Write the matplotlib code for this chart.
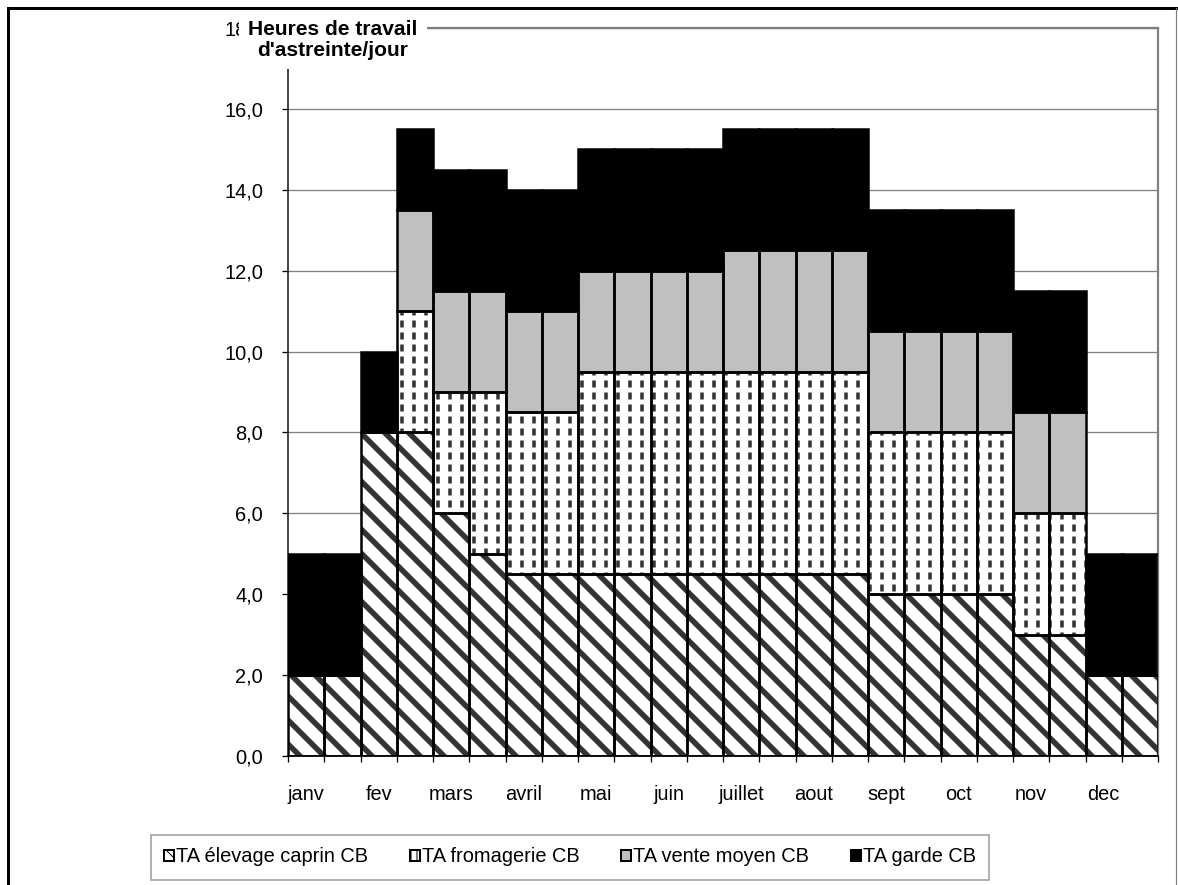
import numpy as np
import matplotlib.pyplot as plt
from matplotlib.patches import Patch
from matplotlib.lines import Line2D
from matplotlib.ticker import FuncFormatter, MultipleLocator

FONT = ['Liberation Sans', 'DejaVu Sans']
DPI = 72

months = ['janv', 'fev', 'mars', 'avril', 'mai', 'juin',
          'juillet', 'aout', 'sept', 'oct', 'nov', 'dec']
# two bars per month, label on the first one
tick_labels = [lab for m in months for lab in (m, '')]

caprin = [2, 2, 8, 8, 6, 5, 4.5, 4.5, 4.5, 4.5, 4.5, 4.5,
          4.5, 4.5, 4.5, 4.5, 4, 4, 4, 4, 3, 3, 2, 2]
fromagerie = [0, 0, 0, 3, 3, 4, 4, 4, 5, 5, 5, 5,
              5, 5, 5, 5, 4, 4, 4, 4, 3, 3, 0, 0]
vente = [0, 0, 0, 2.5, 2.5, 2.5, 2.5, 2.5, 2.5, 2.5, 2.5, 2.5,
         3, 3, 3, 3, 2.5, 2.5, 2.5, 2.5, 2.5, 2.5, 0, 0]
garde = [3, 3, 2, 2, 3, 3, 3, 3, 3, 3, 3, 3,
         3, 3, 3, 3, 3, 3, 3, 3, 3, 3, 3, 3]

series_names = ['TA élevage caprin CB', 'TA fromagerie CB',
                'TA vente moyen CB', 'TA garde CB']

plt.rcParams['font.family'] = FONT
plt.rcParams['font.size'] = 20


def hatch_lw(patches, lw):
    for p in patches:
        if hasattr(p, 'set_hatch_linewidth'):
            p.set_hatch_linewidth(lw)


def main():
    fig = plt.figure(figsize=(1178 / DPI, 885 / DPI), dpi=DPI)
    ax = fig.add_axes([288 / 1178, 1 - 756 / 885, 870 / 1178, 728 / 885])

    x = np.arange(len(caprin))
    c = np.array(caprin, float)
    f = np.array(fromagerie, float)
    v = np.array(vente, float)
    g = np.array(garde, float)
    b_f = c
    b_v = c + f
    b_g = c + f + v

    # fills
    with plt.rc_context({'hatch.linewidth': 5.5}):
        bars = ax.bar(x, c, width=1.0, facecolor='white', edgecolor='#333333',
                      linewidth=0, hatch='\\', zorder=2)
        hatch_lw(bars, 5.5)
    with plt.rc_context({'hatch.linewidth': 3.5}):
        bars = ax.bar(x, f, bottom=b_f, width=1.0, facecolor='white', edgecolor='#333333',
                      linewidth=0, hatch='|', zorder=2)
        hatch_lw(bars, 3.5)
    with plt.rc_context({'hatch.linewidth': 5.0}):
        # break the vertical lines into dashes
        bars = ax.bar(x, f, bottom=b_f, width=1.0, facecolor='none', edgecolor='white',
                      linewidth=0, hatch='-', zorder=3)
        hatch_lw(bars, 5.0)
    ax.bar(x, v, bottom=b_v, width=1.0, facecolor='#c0c0c0', linewidth=0, zorder=2)
    ax.bar(x, g, bottom=b_g, width=1.0, facecolor='black', linewidth=0, zorder=2)

    # outlines
    for vals, bot in ((c, 0), (f, b_f), (v, b_v), (g, b_g)):
        ax.bar(x, vals, bottom=bot, width=1.0, facecolor='none',
               edgecolor='black', linewidth=2.5, zorder=4)

    ax.set_xlim(-0.5, len(x) - 0.5)
    ax.set_ylim(0, 18)
    ax.yaxis.set_major_locator(MultipleLocator(2))
    ax.yaxis.set_major_formatter(FuncFormatter(lambda val, pos: f'{val:.1f}'.replace('.', ',')))
    ax.grid(axis='y', color='#808080', linewidth=1.3, zorder=1)
    ax.set_axisbelow(True)

    ax.set_xticks(x)
    ax.set_xticklabels(tick_labels)
    ax.set_xticks(np.arange(len(x) + 1) - 0.5, minor=True)
    ax.tick_params(axis='x', which='major', length=0, pad=29, labelsize=20)
    ax.tick_params(axis='x', which='minor', length=6, width=1.3, direction='out', color='black')
    ax.tick_params(axis='y', length=6, width=1.3, direction='out', pad=19, labelsize=20)

    ax.spines['left'].set_color('#333333')
    ax.spines['left'].set_linewidth(1.8)
    ax.spines['bottom'].set_color('black')
    ax.spines['bottom'].set_linewidth(1.8)
    for side in ('top', 'right'):
        ax.spines[side].set_color('#808080')
        ax.spines[side].set_linewidth(2.2)

    fig.text(333 / 1178, 1 - 40 / 885, "Heures de travail\nd'astreinte/jour",
             ha='center', va='center', fontsize=21, fontweight='bold',
             linespacing=1.1, zorder=10,
             bbox=dict(facecolor='white', edgecolor='none', pad=9))

    # legend
    handles = [
        Patch(facecolor='white', edgecolor='black', hatch='\\\\', linewidth=2),
        Patch(facecolor='white', edgecolor='black', hatch='||', linewidth=2),
        Patch(facecolor='#c0c0c0', edgecolor='black', linewidth=2),
        Patch(facecolor='black', edgecolor='black', linewidth=2),
    ]
    leg = fig.legend(handles, series_names, loc='center', ncol=4,
                     bbox_to_anchor=(570 / 1178, 1 - 857 / 885),
                     fontsize=20, handlelength=0.5, handleheight=0.5,
                     handletextpad=0.1, columnspacing=2.1, borderpad=0.65,
                     fancybox=False, frameon=True)
    leg.get_frame().set_edgecolor('#808080')
    leg.get_frame().set_linewidth(1.5)

    # outer chart frame
    fig.add_artist(Line2D([8 / 1178, 8 / 1178], [0, 1 - 8 / 885], color='black', linewidth=3))
    fig.add_artist(Line2D([8 / 1178, 1176 / 1178], [1 - 8 / 885, 1 - 8 / 885], color='black', linewidth=3))
    fig.add_artist(Line2D([1176 / 1178, 1176 / 1178], [0, 1 - 8 / 885], color='#808080', linewidth=1.2))

    fig.savefig('out.png', dpi=DPI)


if __name__ == '__main__':
    main()
